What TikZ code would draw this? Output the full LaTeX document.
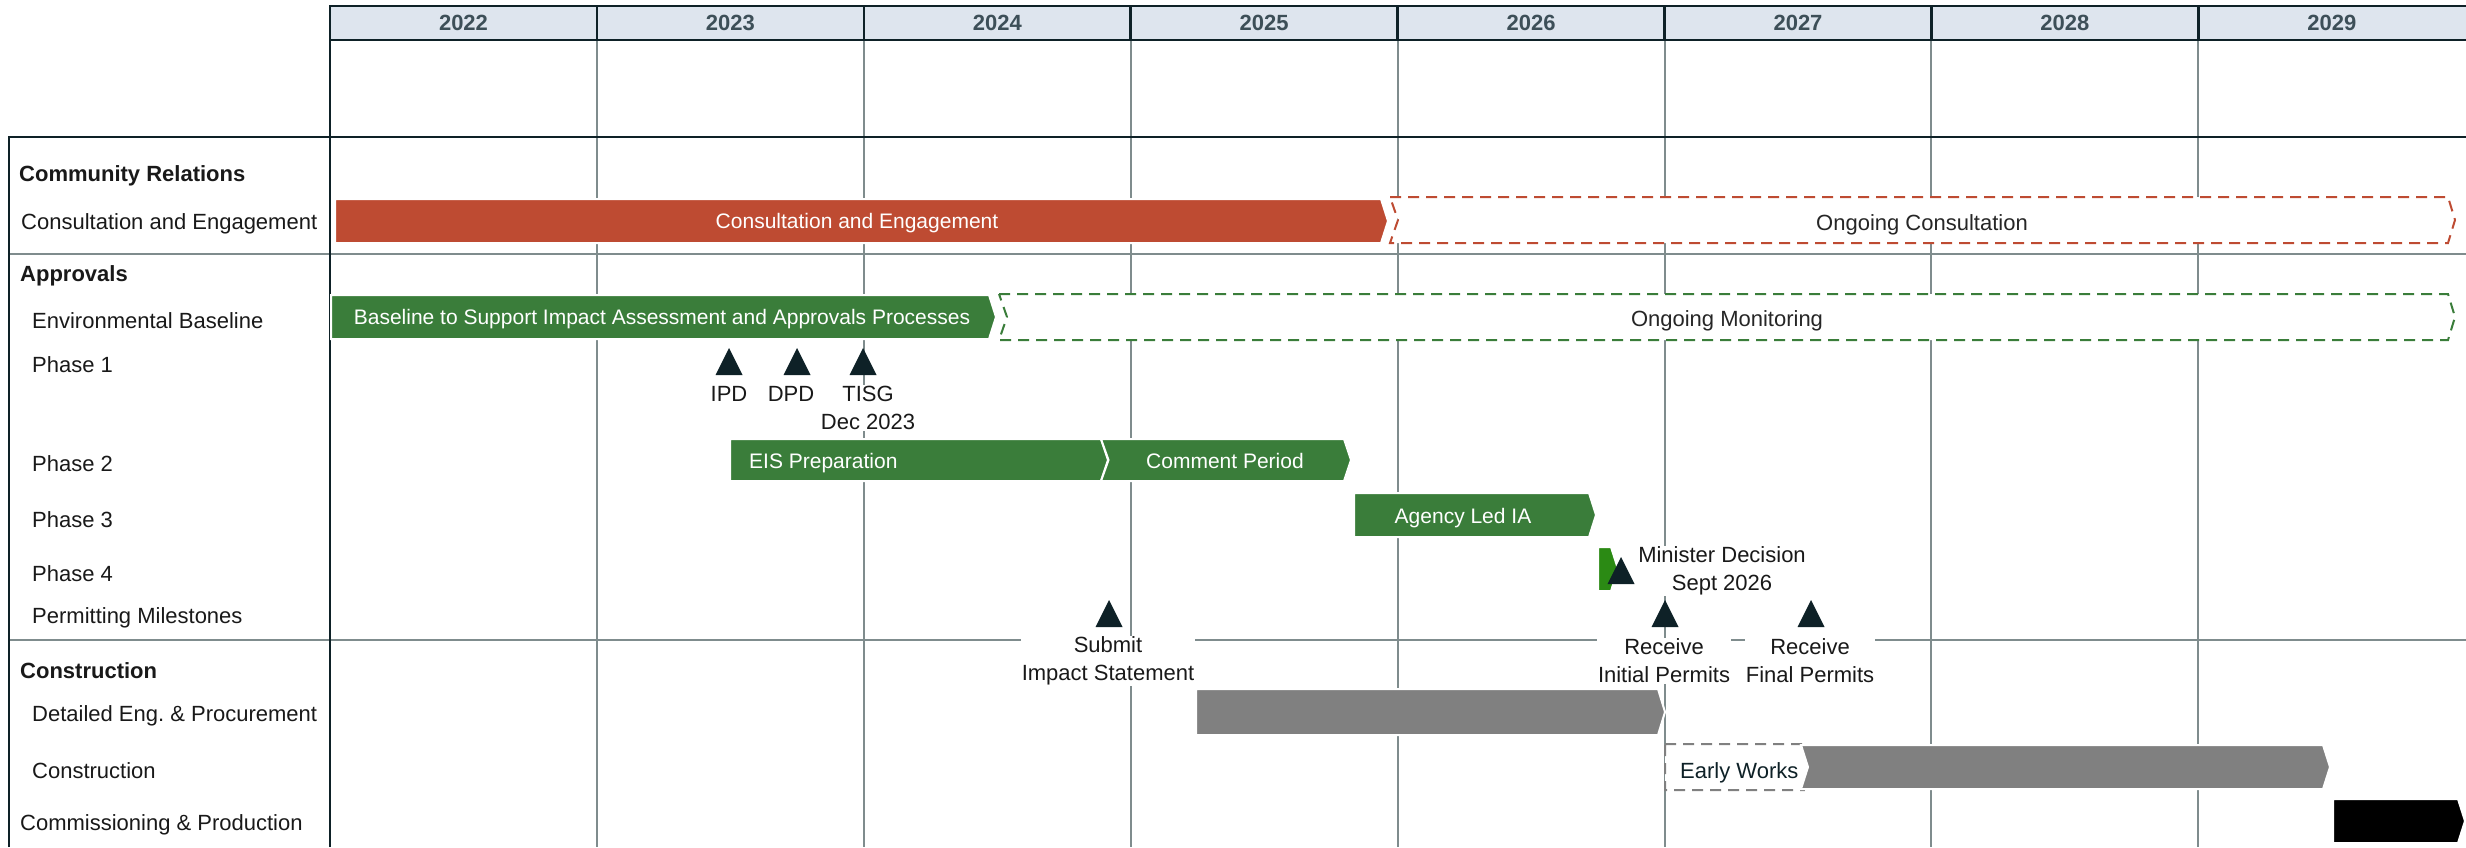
\documentclass[tikz,border=0pt]{standalone}
\usepackage{fontspec}
\setmainfont{Liberation Sans}
\usepackage{xcolor}
\usepackage{tikz}
\frenchspacing

\definecolor{brick}{HTML}{BE4B32}
\definecolor{leaf}{HTML}{3A7D3A}
\definecolor{lime}{HTML}{2B8A14}
\definecolor{ink}{HTML}{0E2127}
\definecolor{rule}{HTML}{7F8C8D}
\definecolor{sky}{HTML}{DEE5EE}
\definecolor{slate}{HTML}{3D4F58}
\definecolor{stone}{HTML}{808080}

% bar: left x, tip x, top y, bottom y, notch depth
\newcommand{\gbar}[6][]{%
  \path[#1] (#2,#4) -- ({#3-7},#4) -- (#3,{(#4+#5)/2}) -- ({#3-7},#5) -- (#2,#5) -- ({#2+#6},{(#4+#5)/2}) -- cycle;}
% milestone: centre x, top y
\newcommand{\mstone}[2]{\fill[ink] ({#1-13.5},{#2+27}) -- (#1,#2) -- ({#1+13.5},{#2+27}) -- cycle;}

\begin{document}
\begin{tikzpicture}[x=1pt,y=-1pt,font=\fontsize{22}{28}\selectfont]
        \tikzset{grid/.style = {draw=rule, line width=2pt},
                 frame/.style = {draw=ink, line width=2.5pt},
                 bar/.style = {draw=white, line width=2pt},
                 dashbox/.style = {draw=#1, line width=2pt, dash pattern=on 11pt off 7pt, fill=white},
                 row/.style = {anchor=west, inner sep=0pt, text=black!90, yshift=-2.5pt},
                 head/.style = {row, font=\fontsize{22}{28}\selectfont\bfseries},
                 year/.style = {font=\fontsize{22}{28}\selectfont\bfseries, text=slate},
                 bartext/.style = {text=white, inner sep=0pt, yshift=-2.5pt, font=\fontsize{21}{26}\selectfont},
                 plain/.style = {text=black!85, yshift=-2.5pt},
                 tag/.style = {fill=white, inner sep=1pt, align=center, text=black!90, yshift=-1pt}}
        \useasboundingbox (0,0) rectangle (2466,847);
        % grid and frame
        \foreach \i in {1,...,7} \draw[grid] ({330+266.9*\i},40) -- ({330+266.9*\i},847);
        \draw[grid] (9,254) -- (2466,254);
        \draw[grid] (9,640) -- (2466,640);
        \draw[frame] (9,847) -- (9,137) -- (2470,137);
        \draw[frame] (330,847) -- (330,40);
        \draw[frame, fill=sky] (330,6) rectangle (2470,40);
        \foreach \yr [count=\i from 0] in {2022,...,2029}{
            \draw[frame] ({330+266.9*\i},6) -- ({330+266.9*\i},40);
            \node[year] (y\yr) at ({463.5+266.9*\i},23) {\yr};}
        % row labels
        \node[head] (crel) at (19,173) {Community Relations};
        \node[row] (ceng) at (21,221) {Consultation and Engagement};
        \node[head] (appr) at (20,273) {Approvals};
        \node[row] (envb) at (32,318) {Environmental Baseline};
        \node[row] (ph1) at (32,362) {Phase 1};
        \node[row] (ph2) at (32,461) {Phase 2};
        \node[row] (ph3) at (32,517) {Phase 3};
        \node[row] (ph4) at (32,571) {Phase 4};
        \node[row] (perm) at (32,615) {Permitting Milestones};
        \node[head] (cons) at (20,668) {Construction};
        \node[row] (deng) at (32,713) {Detailed Eng. \& Procurement};
        \node[row] (cnst) at (32,768) {Construction};
        \node[row] (comm) at (20,822) {Commissioning \& Production};
        % community relations
        \gbar[bar, fill=brick]{335}{1388}{199}{243}{0}
        \node[bartext] (cebar) at (857,221) {Consultation and Engagement};
        \gbar[dashbox=brick]{1390}{2455}{197}{243}{8}
        \node[plain] (ongc) at (1922,222) {Ongoing Consultation};
        % approvals
        \gbar[bar, fill=leaf]{331}{996}{295}{339}{0}
        \node[bartext] (blbar) at (662,317) {Baseline to Support Impact Assessment and Approvals Processes};
        \gbar[dashbox=leaf]{999}{2455}{294}{340}{8}
        \node[plain] (ongm) at (1727,318) {Ongoing Monitoring};
        \mstone{729}{348} \node[tag] (ipd) at (729,393) {IPD};
        \mstone{797}{348} \node[tag] (dpd) at (791,393) {DPD};
        \mstone{863}{348} \node[tag] (tisg) at (868,407) {TISG\\Dec 2023};
        \gbar[bar, fill=leaf]{730}{1108}{439}{481}{0}
        \node[bartext, anchor=west] (eis) at (749,461) {EIS Preparation};
        \gbar[bar, fill=leaf]{1101}{1351}{439}{481}{7.5}
        \node[bartext] (cmt) at (1225,458) {Comment Period};
        \gbar[bar, fill=leaf]{1354}{1596}{493}{537}{0}
        \node[bartext] (aia) at (1463,516) {Agency Led IA};
        \gbar[bar, fill=lime]{1598}{1618}{547}{591}{0}
        \mstone{1621}{557}
        \node[tag] (mdec) at (1722,570) {Minister Decision\\Sept 2026};
        \mstone{1109}{600} \node[tag] (sub) at (1108,660) {Submit\\Impact Statement};
        \mstone{1665}{600} \node[tag] (rip) at (1664,660) {Receive\\Initial Permits};
        \mstone{1811}{600} \node[tag] (rfp) at (1810,660) {Receive\\Final Permits};
        % construction
        \gbar[bar, fill=stone]{1196}{1665}{689}{735}{0}
        \gbar[dashbox=stone]{1665}{1811}{744}{790}{0}
        \node[anchor=west, inner sep=0pt, text=ink, yshift=-2.5pt] (ew) at (1680,770) {Early Works};
        \gbar[bar, fill=stone]{1801}{2330}{745}{789}{7}
        \gbar[bar, fill=black]{2333}{2465}{799}{843}{0}
\end{tikzpicture}
\end{document}
